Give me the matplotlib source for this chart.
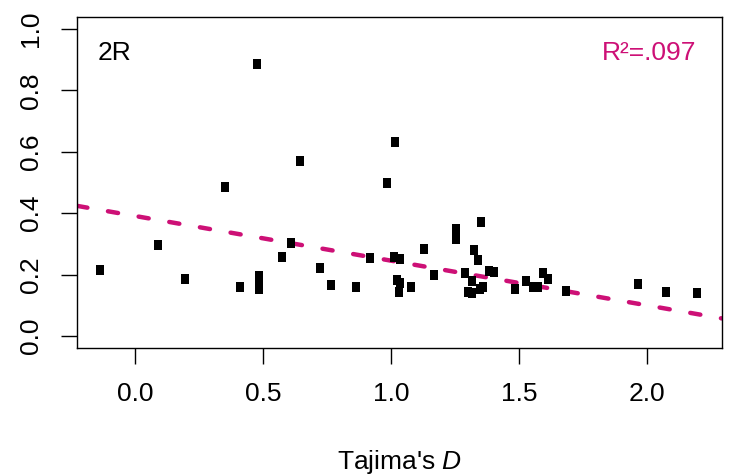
import matplotlib
matplotlib.use("Agg")
import matplotlib.pyplot as plt
import numpy as np

# Tajima's D vs. value, panel 2R
tajima_d = [-0.139, 0.089, 0.194, 0.350, 0.409, 0.477, 0.484, 0.482, 0.482,
            0.574, 0.608, 0.643, 0.723, 0.767, 0.861, 0.917, 0.986, 1.016,
            1.012, 1.035, 1.128, 1.167, 1.025, 1.035, 1.030, 1.077, 1.253,
            1.254, 1.350, 1.324, 1.338, 1.288, 1.318, 1.299, 1.315, 1.348,
            1.358, 1.381, 1.402, 1.483, 1.527, 1.553, 1.575, 1.593, 1.612,
            1.684, 1.965, 2.074, 2.196]
values = [0.214, 0.298, 0.185, 0.486, 0.160, 0.885, 0.196, 0.166, 0.152,
          0.258, 0.303, 0.571, 0.223, 0.166, 0.159, 0.254, 0.499, 0.633,
          0.259, 0.251, 0.285, 0.199, 0.183, 0.172, 0.142, 0.161, 0.348,
          0.316, 0.373, 0.280, 0.248, 0.204, 0.178, 0.145, 0.141, 0.152,
          0.159, 0.213, 0.210, 0.152, 0.180, 0.159, 0.159, 0.204, 0.185,
          0.148, 0.171, 0.143, 0.140]

# regression line
fit_intercept = 0.391
fit_slope = -0.1455
r2_label = "R\u00b2=.097"
panel_label = "2R"

x_ticks = [0.0, 0.5, 1.0, 1.5, 2.0]
y_ticks = [0.0, 0.2, 0.4, 0.6, 0.8, 1.0]

pink = "#CD1076"

plt.rcParams.update({
    'font.family': ['Liberation Sans', 'DejaVu Sans'],
    'font.size': 19,
    'mathtext.fontset': 'custom',
    'mathtext.rm': 'Liberation Sans',
    'mathtext.it': 'Liberation Sans:italic',
    'axes.linewidth': 1.0,
})

fig = plt.figure(figsize=(7.35, 4.75), dpi=100)
ax = fig.add_axes([0.1052, 0.2667, 0.8771, 0.698])

# slightly tall square like R's pch 15
rect = [(-0.8, -1), (0.8, -1), (0.8, 1), (-0.8, 1), (-0.8, -1)]
ax.scatter(tajima_d, values, marker=rect, s=45, color='black',
           linewidths=0, zorder=3)

xlim = (-0.226, 2.293)
xs = np.array(xlim)
ax.plot(xs, fit_intercept + fit_slope * xs, color=pink, linewidth=3.2,
        linestyle=(0, (2.3, 4.7)), dash_capstyle='round', zorder=2)

ax.set_xlim(*xlim)
ax.set_ylim(-0.04, 1.04)
ax.set_xticks(x_ticks)
ax.set_xticklabels([f"{t:.1f}" for t in x_ticks])
ax.set_yticks(y_ticks)
ax.set_yticklabels([f"{t:.1f}" for t in y_ticks], rotation=90, va='center')
ax.tick_params(axis='both', length=11.5, width=1.0, pad=13, labelsize=19)

ax.set_xlabel("Tajima's $D$", fontsize=19, labelpad=30)

ax.text(0.0316, 0.870, panel_label, transform=ax.transAxes, ha='left',
        va='baseline', fontsize=19)
ax.text(0.961, 0.870, r2_label, transform=ax.transAxes, ha='right',
        va='baseline', fontsize=19, color=pink)

plt.savefig('out.png', dpi=100)
